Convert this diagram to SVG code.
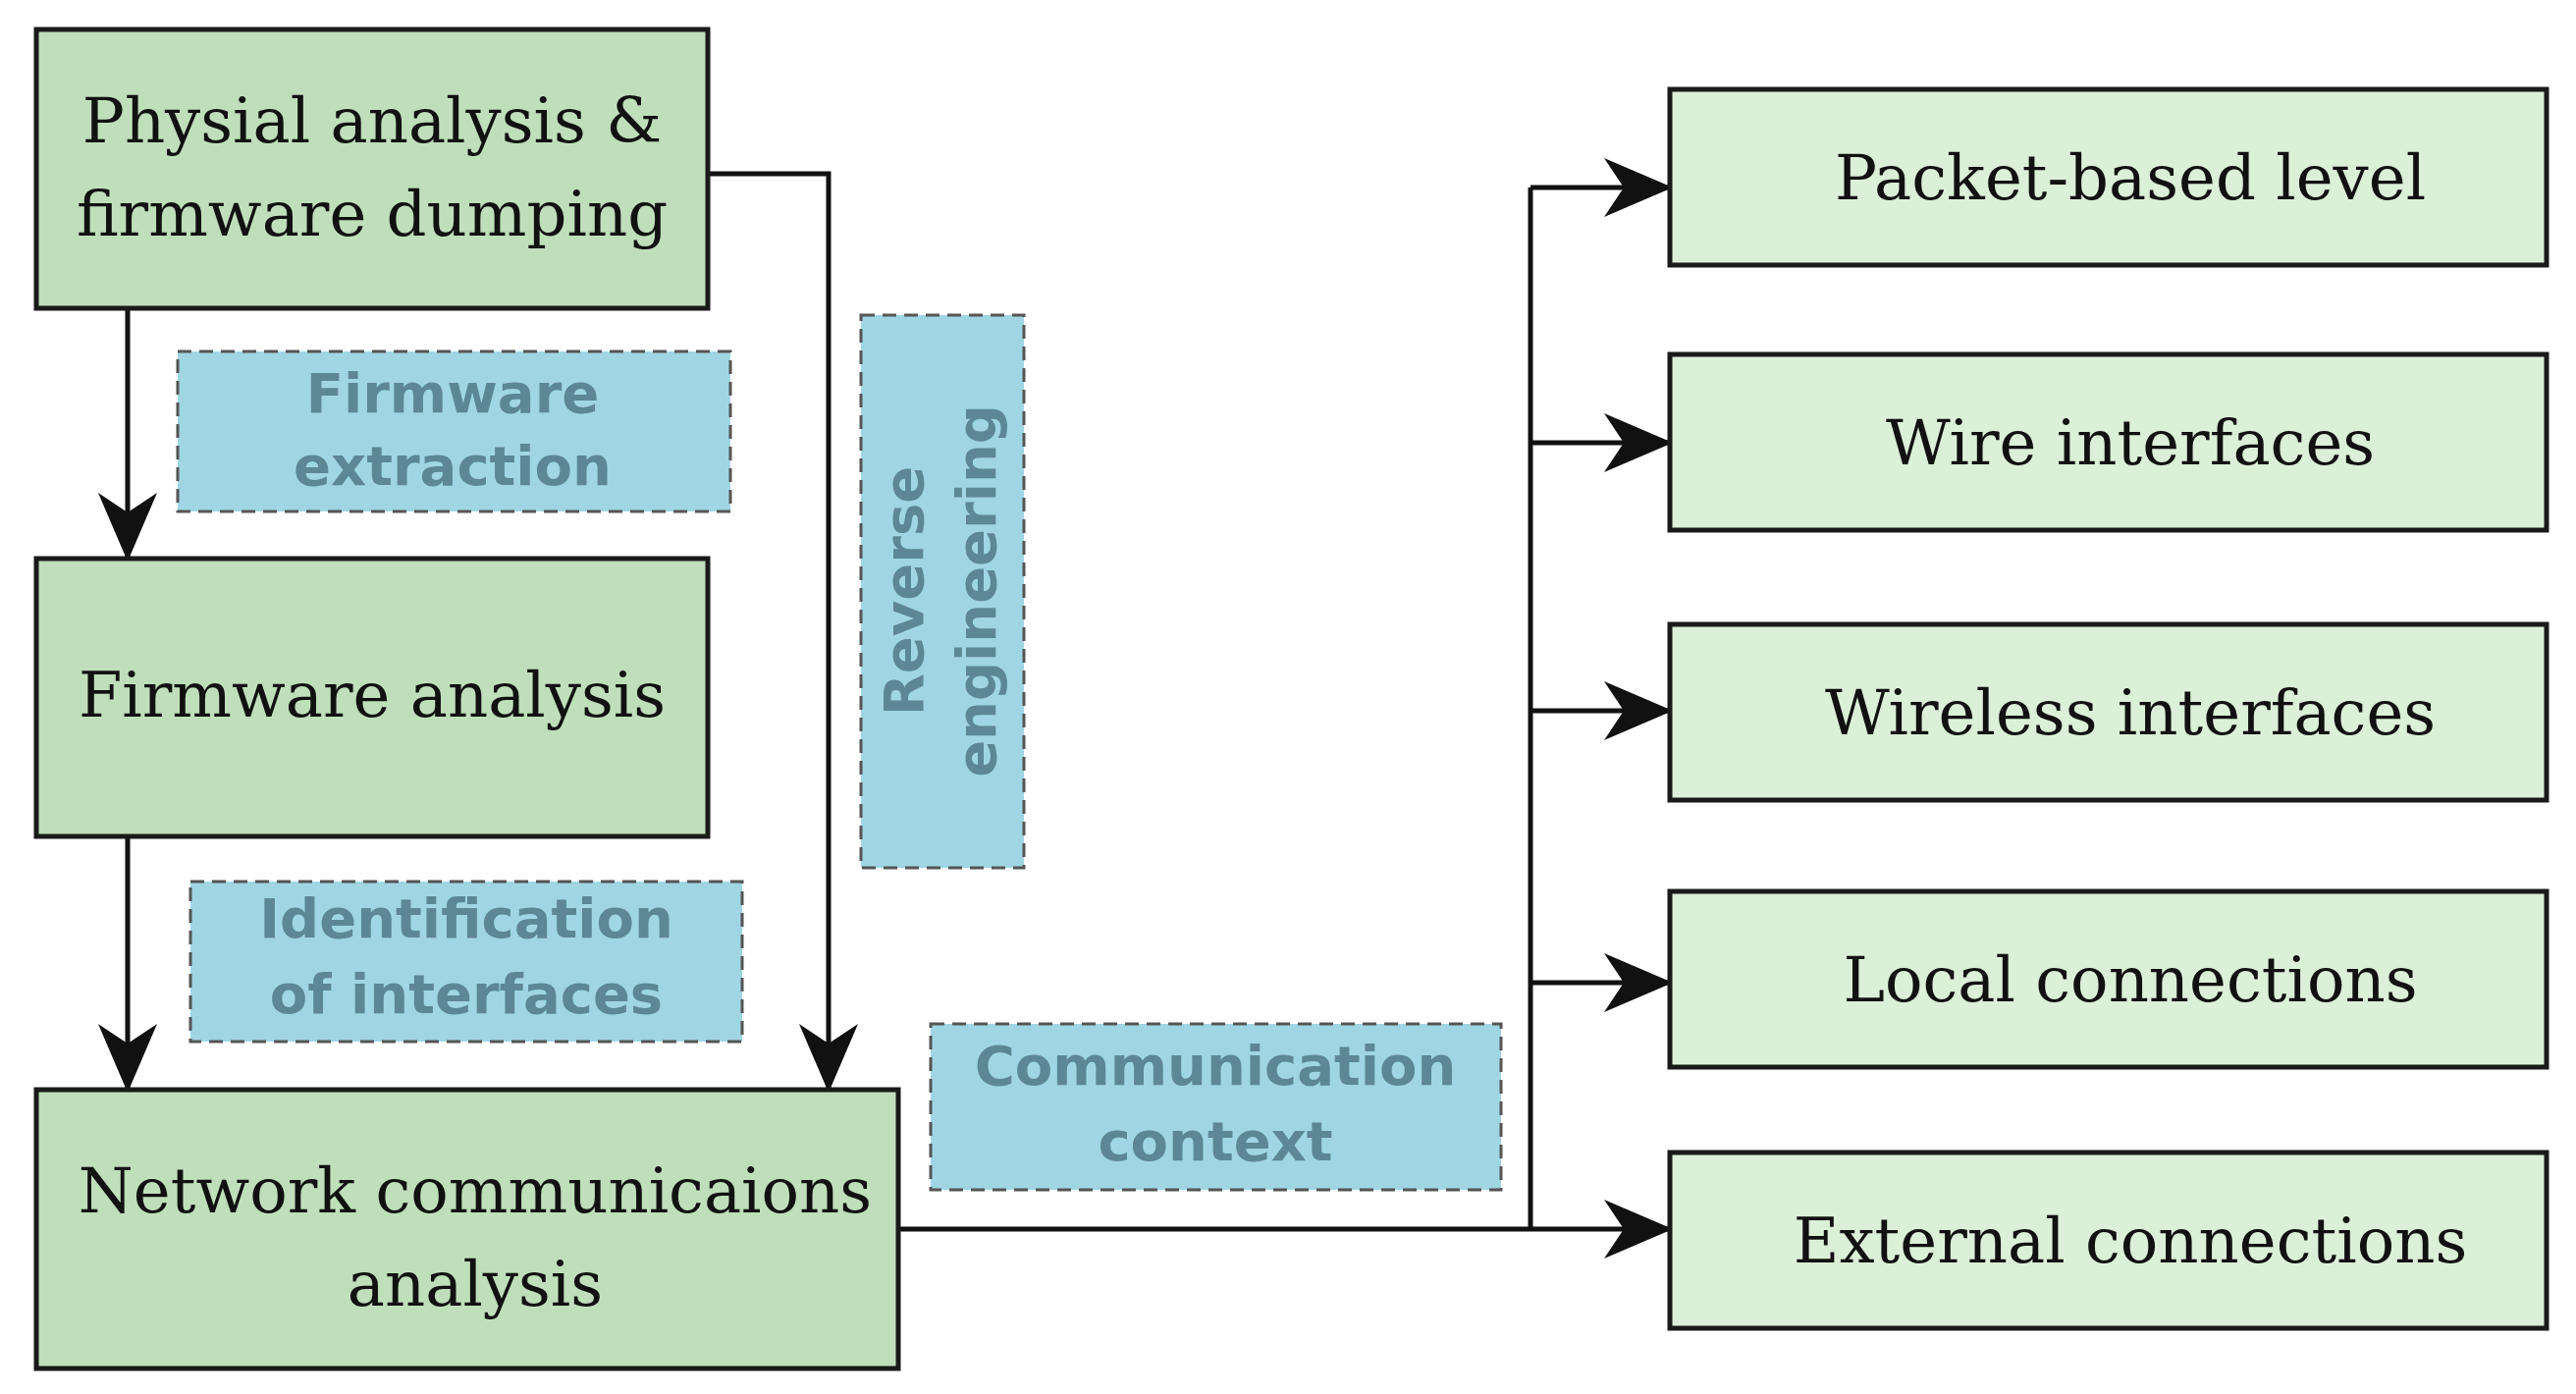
<svg xmlns="http://www.w3.org/2000/svg" width="2624" height="1420" viewBox="0 0 2624 1420">
<style>
.main{fill:#bfdfba;stroke:#1a1a1a;stroke-width:5}
.sub{fill:#dcefd8;stroke:#1a1a1a;stroke-width:5}
.lab{fill:#a0d6e4;stroke:#555;stroke-width:3;stroke-dasharray:14 8}
.t{font-family:"DejaVu Serif",serif;font-size:64px;fill:#111;text-anchor:middle}
.l{font-family:"DejaVu Sans",sans-serif;font-weight:bold;font-size:56px;fill:#5d8795;text-anchor:middle}
.c{fill:none;stroke:#111;stroke-width:5}
</style>
<defs>
<marker id="a" markerWidth="14" markerHeight="12" refX="13" refY="6" orient="auto" markerUnits="strokeWidth">
<path d="M0,0 L14,6 L0,12 L4,6 Z" fill="#111"/>
</marker>
</defs>
<rect width="2624" height="1420" fill="#fff"/>
<g id="connectors">
<path class="c" d="M721,177 H844 V1108" marker-end="url(#a)"/>
<path class="c" d="M130,314 V567" marker-end="url(#a)"/>
<path class="c" d="M130,852 V1108" marker-end="url(#a)"/>
<path class="c" d="M915,1252 H1699" marker-end="url(#a)"/>
<path class="c" d="M1559,1252 V191"/>
<path class="c" d="M1559,191 H1699" marker-end="url(#a)"/>
<path class="c" d="M1559,451 H1699" marker-end="url(#a)"/>
<path class="c" d="M1559,724 H1699" marker-end="url(#a)"/>
<path class="c" d="M1559,1001 H1699" marker-end="url(#a)"/>
</g>
<g id="n1"><rect class="main" x="37" y="30" width="684" height="284"/><text class="t" x="379" y="145">Physial analysis &amp;</text><text class="t" x="379" y="240">firmware dumping</text></g>
<g id="n2"><rect class="main" x="37" y="569" width="684" height="283"/><text class="t" x="379" y="730">Firmware analysis</text></g>
<g id="n3"><rect class="main" x="37" y="1110" width="878" height="284"/><text class="t" x="484" y="1235">Network communicaions</text><text class="t" x="484" y="1330">analysis</text></g>
<g id="r1"><rect class="sub" x="1701" y="91" width="893" height="179"/><text class="t" x="2170" y="203">Packet-based level</text></g>
<g id="r2"><rect class="sub" x="1701" y="361" width="893" height="179"/><text class="t" x="2170" y="473">Wire interfaces</text></g>
<g id="r3"><rect class="sub" x="1701" y="636" width="893" height="179"/><text class="t" x="2170" y="748">Wireless interfaces</text></g>
<g id="r4"><rect class="sub" x="1701" y="908" width="893" height="179"/><text class="t" x="2170" y="1020">Local connections</text></g>
<g id="r5"><rect class="sub" x="1701" y="1174" width="893" height="179"/><text class="t" x="2170" y="1286">External connections</text></g>
<g id="lab1"><rect class="lab" x="181" y="358" width="563" height="163"/><text class="l" x="461" y="420">Firmware</text><text class="l" x="461" y="494">extraction</text></g>
<g id="lab2"><rect class="lab" x="194" y="898" width="562" height="163"/><text class="l" x="475" y="955">Identification</text><text class="l" x="475" y="1032">of interfaces</text></g>
<g id="lab3"><rect class="lab" x="877" y="321" width="166" height="563"/><text class="l" transform="translate(940,602) rotate(-90)">Reverse</text><text class="l" transform="translate(1014,602) rotate(-90)">engineering</text></g>
<g id="lab4"><rect class="lab" x="948" y="1043" width="581" height="169"/><text class="l" x="1238" y="1105">Communication</text><text class="l" x="1238" y="1182">context</text></g>
</svg>
